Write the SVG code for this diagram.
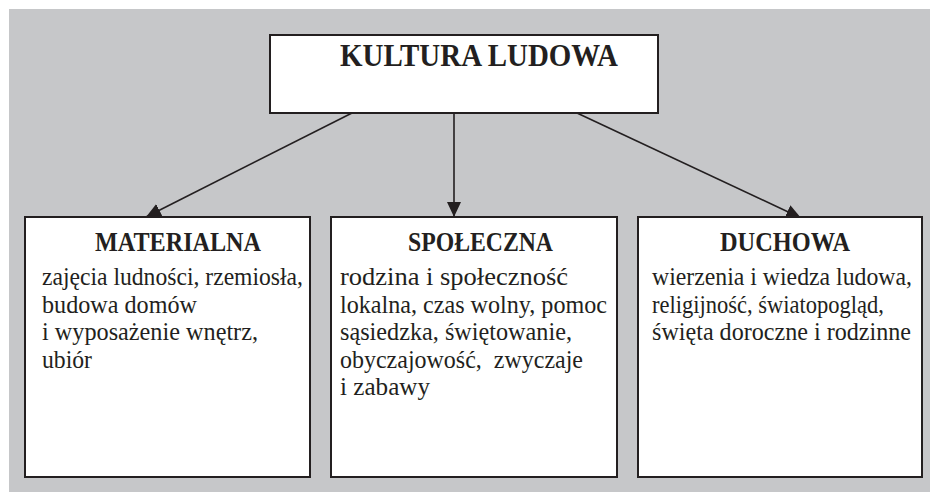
<svg xmlns="http://www.w3.org/2000/svg" width="930" height="492" viewBox="0 0 930 492">
  <style>
    .box { fill: #ffffff; stroke: #231f20; stroke-width: 2; }
    .link { stroke: #231f20; stroke-width: 1.6; fill: none; marker-end: url(#head); }
    .title { font-family: "Liberation Serif", "DejaVu Serif", serif; font-weight: bold; font-size: 31px; fill: #231f20; }
    .head { font-family: "Liberation Serif", "DejaVu Serif", serif; font-weight: bold; font-size: 28px; fill: #231f20; }
    .body { font-family: "Liberation Serif", "DejaVu Serif", serif; font-size: 25px; fill: #231f20; }
  </style>
  <defs>
    <marker id="head" markerUnits="userSpaceOnUse" markerWidth="15" markerHeight="14" refX="15" refY="7" orient="auto">
      <path d="M0,0 L15,7 L0,14 z" fill="#231f20"/>
    </marker>
  </defs>

  <!-- page background -->
  <rect x="0" y="0" width="930" height="492" fill="#ffffff"/>
  <rect x="9" y="9" width="921" height="483" fill="#c6c7c9"/>

  <!-- connectors -->
  <g id="connectors">
    <line class="link" x1="352" y1="113" x2="146" y2="217"/>
    <line class="link" x1="454" y1="113" x2="454" y2="217"/>
    <line class="link" x1="577" y1="113" x2="801" y2="218"/>
  </g>

  <!-- root node -->
  <g id="kultura-ludowa">
    <rect class="box" x="270" y="35" width="388" height="78"/>
    <text class="title" x="340" y="66" textLength="278" lengthAdjust="spacingAndGlyphs">KULTURA LUDOWA</text>
  </g>

  <!-- material culture -->
  <g id="materialna">
    <rect class="box" x="25" y="217" width="285" height="260"/>
    <text class="head" x="95" y="251" textLength="166" lengthAdjust="spacingAndGlyphs">MATERIALNA</text>
    <text class="body" x="42" y="285" textLength="261" lengthAdjust="spacingAndGlyphs">zajęcia ludności, rzemiosła,</text>
    <text class="body" x="42" y="312.5" textLength="155" lengthAdjust="spacingAndGlyphs">budowa domów</text>
    <text class="body" x="42" y="340" textLength="216" lengthAdjust="spacingAndGlyphs">i wyposażenie wnętrz,</text>
    <text class="body" x="42" y="367.5" textLength="50" lengthAdjust="spacingAndGlyphs">ubiór</text>
  </g>

  <!-- social culture -->
  <g id="spoleczna">
    <rect class="box" x="331" y="217" width="286" height="260"/>
    <text class="head" x="408" y="251" textLength="145" lengthAdjust="spacingAndGlyphs">SPOŁECZNA</text>
    <text class="body" x="340" y="285" textLength="228" lengthAdjust="spacingAndGlyphs">rodzina i społeczność</text>
    <text class="body" x="340" y="312.5" textLength="267" lengthAdjust="spacingAndGlyphs">lokalna, czas wolny, pomoc</text>
    <text class="body" x="340" y="340" textLength="232" lengthAdjust="spacingAndGlyphs">sąsiedzka, świętowanie,</text>
    <text class="body" x="340" y="367.5" textLength="243" lengthAdjust="spacingAndGlyphs" xml:space="preserve">obyczajowość,  zwyczaje</text>
    <text class="body" x="340" y="395" textLength="90" lengthAdjust="spacingAndGlyphs">i zabawy</text>
  </g>

  <!-- spiritual culture -->
  <g id="duchowa">
    <rect class="box" x="638" y="217" width="284" height="260"/>
    <text class="head" x="720" y="251" textLength="130" lengthAdjust="spacingAndGlyphs">DUCHOWA</text>
    <text class="body" x="652" y="285" textLength="260" lengthAdjust="spacingAndGlyphs">wierzenia i wiedza ludowa,</text>
    <text class="body" x="652" y="312.5" textLength="232" lengthAdjust="spacingAndGlyphs">religijność, światopogląd,</text>
    <text class="body" x="652" y="340" textLength="259" lengthAdjust="spacingAndGlyphs">święta doroczne i rodzinne</text>
  </g>
</svg>
